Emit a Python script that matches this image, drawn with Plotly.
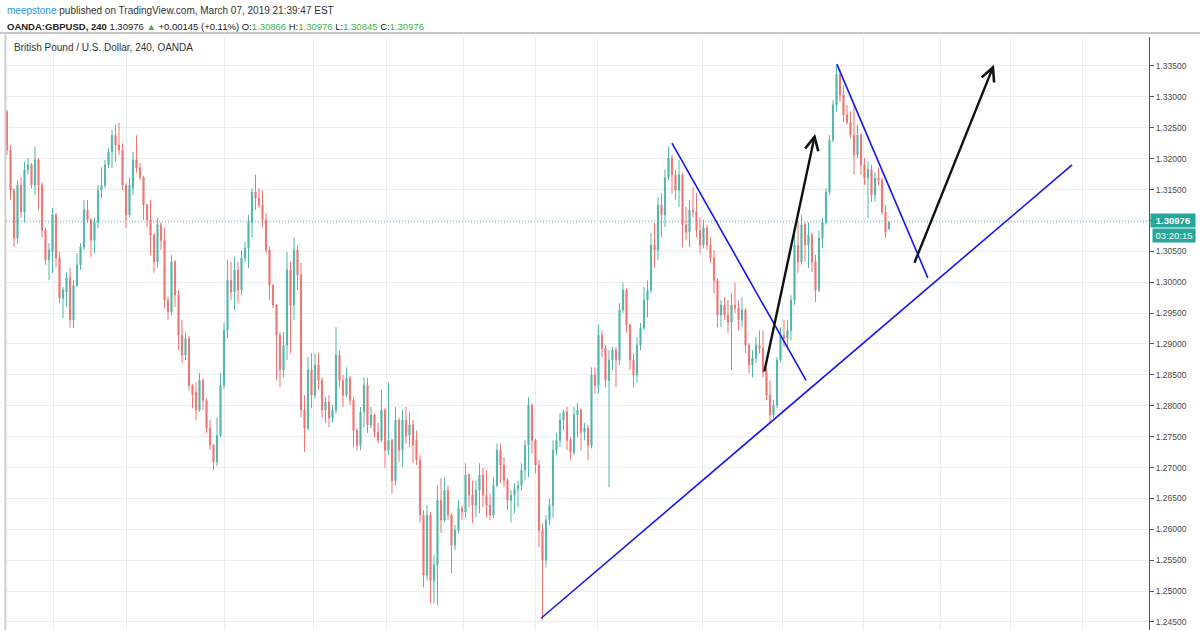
import plotly.graph_objects as go

# GBPUSD 240 candles (oldest -> newest)
opens = [
    1.3276, 1.3214, 1.3149, 1.3071, 1.3157, 1.3114, 1.3182, 1.3190, 1.3157, 1.3198,
    1.3157, 1.3084, 1.3036, 1.3049, 1.3109, 1.3039, 1.2974, 1.2984, 1.3007, 1.2939,
    1.2995, 1.3028, 1.3057, 1.3117, 1.3101, 1.3068, 1.3097, 1.3149, 1.3157, 1.3190,
    1.3211, 1.3238, 1.3222, 1.3214, 1.3157, 1.3109, 1.3152, 1.3198, 1.3185, 1.3170,
    1.3125, 1.3101, 1.3076, 1.3033, 1.3093, 1.3068, 1.2971, 1.2952, 1.3033, 1.2979,
    1.2914, 1.2882, 1.2909, 1.2833, 1.2822, 1.2793, 1.2841, 1.2809, 1.2764, 1.2736,
    1.2709, 1.2752, 1.2833, 1.2922, 1.3003, 1.2984, 1.3020, 1.2987, 1.3039, 1.3055,
    1.3097, 1.3146, 1.3136, 1.3125, 1.3101, 1.3052, 1.2995, 1.2963, 1.2914, 1.2858,
    1.2898, 1.3020, 1.2963, 1.3052, 1.3012, 1.2793, 1.2764, 1.2858, 1.2817, 1.2866,
    1.2841, 1.2793, 1.2806, 1.2780, 1.2793, 1.2882, 1.2841, 1.2817, 1.2845, 1.2809,
    1.2760, 1.2736, 1.2790, 1.2833, 1.2769, 1.2785, 1.2757, 1.2744, 1.2793, 1.2728,
    1.2744, 1.2679, 1.2777, 1.2728, 1.2777, 1.2752, 1.2769, 1.2744, 1.2712, 1.2623,
    1.2526, 1.2623, 1.2517, 1.2542, 1.2647, 1.2615, 1.2663, 1.2623, 1.2574, 1.2598,
    1.2634, 1.2628, 1.2688, 1.2655, 1.2639, 1.2663, 1.2688, 1.2655, 1.2639, 1.2623,
    1.2671, 1.2728, 1.2704, 1.2679, 1.2647, 1.2655, 1.2666, 1.2671, 1.2696, 1.2736,
    1.2801, 1.2744, 1.2704, 1.2598, 1.2550, 1.2615, 1.2639, 1.2728, 1.2744, 1.2777,
    1.2790, 1.2744, 1.2725, 1.2785, 1.2793, 1.2757, 1.2764, 1.2736, 1.2850, 1.2833,
    1.2914, 1.2893, 1.2841, 1.2874, 1.2890, 1.2874, 1.2955, 1.2987, 1.2931, 1.2874,
    1.2850, 1.2898, 1.2926, 1.2971, 1.2987, 1.3060, 1.3052, 1.3125, 1.3109, 1.3169,
    1.3201, 1.3174, 1.3149, 1.3174, 1.3093, 1.3081, 1.3117, 1.3114, 1.3084, 1.3060,
    1.3088, 1.3060, 1.3039, 1.3003, 1.2947, 1.2963, 1.2947, 1.2935, 1.2963, 1.2958,
    1.2939, 1.2955, 1.2898, 1.2866, 1.2877, 1.2898, 1.2893, 1.2854, 1.2817, 1.2785,
    1.2801, 1.2874, 1.2914, 1.2909, 1.2922, 1.2971, 1.3060, 1.3033, 1.3093, 1.3060,
    1.3076, 1.3033, 1.2987, 1.3071, 1.3097, 1.3146, 1.3230, 1.3287, 1.3336, 1.3303,
    1.3271, 1.3259, 1.3238, 1.3206, 1.3238, 1.3190, 1.3169, 1.3182, 1.3141, 1.3169,
    1.3165, 1.3114, 1.30866,
]
highs = [
    1.3279, 1.3222, 1.3152, 1.3165, 1.3169, 1.3195, 1.3201, 1.3193, 1.3219, 1.3201,
    1.3161, 1.3088, 1.3063, 1.3120, 1.3112, 1.3049, 1.2992, 1.3016, 1.3024, 1.3003,
    1.3047, 1.3063, 1.3133, 1.3133, 1.3104, 1.3105, 1.3157, 1.3186, 1.3198, 1.3217,
    1.3246, 1.3255, 1.3258, 1.3225, 1.3160, 1.3170, 1.3211, 1.3238, 1.3193, 1.3172,
    1.3127, 1.3133, 1.3080, 1.3104, 1.3097, 1.3088, 1.2977, 1.3044, 1.3036, 1.2987,
    1.2939, 1.2919, 1.2913, 1.2835, 1.2838, 1.2853, 1.2845, 1.2812, 1.2777, 1.2738,
    1.2781, 1.2853, 1.2934, 1.3036, 1.3033, 1.3041, 1.3033, 1.3052, 1.3065, 1.3109,
    1.3152, 1.3174, 1.3152, 1.3149, 1.3112, 1.3057, 1.2997, 1.2965, 1.2919, 1.2919,
    1.3049, 1.3033, 1.3073, 1.3060, 1.3031, 1.2817, 1.2879, 1.2885, 1.2885, 1.2885,
    1.2846, 1.2814, 1.2817, 1.2801, 1.2927, 1.2890, 1.2850, 1.2862, 1.2848, 1.2814,
    1.2764, 1.2798, 1.2846, 1.2845, 1.2798, 1.2788, 1.2772, 1.2825, 1.2796, 1.2837,
    1.2746, 1.2798, 1.2780, 1.2793, 1.2798, 1.2790, 1.2777, 1.2760, 1.2720, 1.2631,
    1.2639, 1.2628, 1.2558, 1.2671, 1.2683, 1.2684, 1.2671, 1.2626, 1.2607, 1.2647,
    1.2639, 1.2707, 1.2690, 1.2679, 1.2679, 1.2707, 1.2699, 1.2696, 1.2658, 1.2684,
    1.2739, 1.2739, 1.2717, 1.2683, 1.2663, 1.2675, 1.2679, 1.2707, 1.2744, 1.2814,
    1.2804, 1.2746, 1.2712, 1.2610, 1.2623, 1.2650, 1.2744, 1.2756, 1.2788, 1.2793,
    1.2798, 1.2749, 1.2798, 1.2804, 1.2796, 1.2772, 1.2769, 1.2862, 1.2862, 1.2931,
    1.2922, 1.2898, 1.2890, 1.2895, 1.2895, 1.2966, 1.2999, 1.2990, 1.2933, 1.2885,
    1.2911, 1.2934, 1.2992, 1.3003, 1.3080, 1.3096, 1.3138, 1.3144, 1.3182, 1.3219,
    1.3206, 1.3182, 1.3198, 1.3177, 1.3122, 1.3133, 1.3154, 1.3144, 1.3105, 1.3101,
    1.3093, 1.3073, 1.3052, 1.3007, 1.2971, 1.2976, 1.2971, 1.2982, 1.2999, 1.2971,
    1.2976, 1.2958, 1.2901, 1.2890, 1.2911, 1.2922, 1.2922, 1.2861, 1.2841, 1.2809,
    1.2879, 1.2927, 1.2939, 1.2939, 1.2979, 1.3084, 1.3097, 1.3109, 1.3097, 1.3097,
    1.3080, 1.3044, 1.3084, 1.3104, 1.3152, 1.3238, 1.3295, 1.3350, 1.3344, 1.3319,
    1.3287, 1.3276, 1.3287, 1.3255, 1.3242, 1.3201, 1.3195, 1.3190, 1.3178, 1.3185,
    1.3169, 1.3125, 1.30976,
]
lows = [
    1.3206, 1.3133, 1.3057, 1.3063, 1.3104, 1.3097, 1.3174, 1.3152, 1.3141, 1.3117,
    1.3073, 1.3028, 1.3003, 1.3015, 1.3024, 1.2966, 1.2942, 1.2960, 1.2926, 1.2926,
    1.2992, 1.3020, 1.3052, 1.3096, 1.3041, 1.3047, 1.3088, 1.3136, 1.3152, 1.3185,
    1.3185, 1.3195, 1.3206, 1.3149, 1.3088, 1.3105, 1.3141, 1.3177, 1.3165, 1.3101,
    1.3089, 1.3044, 1.3015, 1.3024, 1.3052, 1.2958, 1.2939, 1.2947, 1.2960, 1.2890,
    1.2869, 1.2874, 1.2825, 1.2796, 1.2777, 1.2790, 1.2793, 1.2756, 1.2728, 1.2696,
    1.2702, 1.2749, 1.2828, 1.2909, 1.2971, 1.2955, 1.2966, 1.2979, 1.3033, 1.3023,
    1.3073, 1.3117, 1.3120, 1.3089, 1.3047, 1.2971, 1.2958, 1.2841, 1.2830, 1.2846,
    1.2874, 1.2885, 1.2939, 1.2987, 1.2781, 1.2725, 1.2760, 1.2796, 1.2812, 1.2825,
    1.2780, 1.2772, 1.2765, 1.2773, 1.2788, 1.2830, 1.2798, 1.2814, 1.2801, 1.2733,
    1.2728, 1.2728, 1.2765, 1.2756, 1.2764, 1.2749, 1.2739, 1.2741, 1.2700, 1.2720,
    1.2658, 1.2671, 1.2709, 1.2700, 1.2739, 1.2733, 1.2707, 1.2704, 1.2611, 1.2506,
    1.2517, 1.2480, 1.2480, 1.2477, 1.2594, 1.2611, 1.2615, 1.2529, 1.2566, 1.2594,
    1.2615, 1.2619, 1.2636, 1.2610, 1.2619, 1.2626, 1.2636, 1.2619, 1.2615, 1.2618,
    1.2668, 1.2675, 1.2668, 1.2631, 1.2611, 1.2626, 1.2636, 1.2663, 1.2679, 1.2684,
    1.2723, 1.2691, 1.2571, 1.2453, 1.2538, 1.2607, 1.2619, 1.2720, 1.2733, 1.2760,
    1.2728, 1.2712, 1.2720, 1.2749, 1.2728, 1.2744, 1.2712, 1.2731, 1.2820, 1.2820,
    1.2879, 1.2830, 1.2668, 1.2858, 1.2830, 1.2866, 1.2950, 1.2918, 1.2858, 1.2830,
    1.2838, 1.2890, 1.2922, 1.2943, 1.2982, 1.3024, 1.3036, 1.3073, 1.3089, 1.3165,
    1.3144, 1.3133, 1.3122, 1.3057, 1.3068, 1.3057, 1.3105, 1.3073, 1.3047, 1.3055,
    1.3052, 1.3031, 1.2982, 1.2927, 1.2927, 1.2939, 1.2918, 1.2858, 1.2950, 1.2922,
    1.2927, 1.2885, 1.2853, 1.2846, 1.2869, 1.2885, 1.2846, 1.2809, 1.2772, 1.2780,
    1.2796, 1.2871, 1.2895, 1.2895, 1.2906, 1.2963, 1.3015, 1.3028, 1.3033, 1.3023,
    1.3016, 1.2968, 1.2984, 1.3055, 1.3093, 1.3141, 1.3227, 1.3276, 1.3292, 1.3259,
    1.3255, 1.3233, 1.3174, 1.3201, 1.3174, 1.3157, 1.3104, 1.3130, 1.3130, 1.3157,
    1.3109, 1.3071, 1.30845,
]
closes = [
    1.3214, 1.3149, 1.3071, 1.3157, 1.3114, 1.3182, 1.3190, 1.3157, 1.3198, 1.3157,
    1.3084, 1.3036, 1.3052, 1.3109, 1.3039, 1.2974, 1.2987, 1.3007, 1.2939, 1.2995,
    1.3028, 1.3057, 1.3117, 1.3101, 1.3068, 1.3097, 1.3149, 1.3157, 1.3190, 1.3211,
    1.3238, 1.3222, 1.3214, 1.3157, 1.3109, 1.3157, 1.3198, 1.3185, 1.3170, 1.3125,
    1.3101, 1.3076, 1.3033, 1.3093, 1.3068, 1.2971, 1.2952, 1.3033, 1.2979, 1.2914,
    1.2882, 1.2909, 1.2833, 1.2817, 1.2793, 1.2841, 1.2809, 1.2764, 1.2736, 1.2709,
    1.2752, 1.2833, 1.2922, 1.3003, 1.2984, 1.3020, 1.2987, 1.3039, 1.3055, 1.3097,
    1.3146, 1.3136, 1.3125, 1.3101, 1.3052, 1.2995, 1.2963, 1.2914, 1.2858, 1.2898,
    1.3020, 1.2963, 1.3052, 1.3012, 1.2793, 1.2764, 1.2858, 1.2817, 1.2866, 1.2841,
    1.2793, 1.2806, 1.2780, 1.2793, 1.2882, 1.2841, 1.2817, 1.2845, 1.2809, 1.2760,
    1.2736, 1.2790, 1.2833, 1.2769, 1.2785, 1.2757, 1.2744, 1.2793, 1.2728, 1.2744,
    1.2679, 1.2777, 1.2728, 1.2777, 1.2752, 1.2769, 1.2736, 1.2712, 1.2623, 1.2526,
    1.2623, 1.2517, 1.2542, 1.2647, 1.2615, 1.2663, 1.2623, 1.2574, 1.2598, 1.2634,
    1.2628, 1.2688, 1.2655, 1.2639, 1.2663, 1.2688, 1.2655, 1.2639, 1.2623, 1.2671,
    1.2728, 1.2704, 1.2679, 1.2647, 1.2655, 1.2666, 1.2671, 1.2696, 1.2736, 1.2801,
    1.2744, 1.2704, 1.2598, 1.2550, 1.2615, 1.2639, 1.2728, 1.2744, 1.2777, 1.2790,
    1.2744, 1.2725, 1.2785, 1.2793, 1.2757, 1.2764, 1.2736, 1.2850, 1.2833, 1.2914,
    1.2893, 1.2841, 1.2874, 1.2890, 1.2874, 1.2955, 1.2987, 1.2931, 1.2874, 1.2850,
    1.2898, 1.2926, 1.2971, 1.2987, 1.3060, 1.3052, 1.3125, 1.3109, 1.3169, 1.3201,
    1.3174, 1.3149, 1.3174, 1.3093, 1.3081, 1.3117, 1.3114, 1.3084, 1.3060, 1.3088,
    1.3060, 1.3039, 1.3003, 1.2947, 1.2963, 1.2947, 1.2935, 1.2963, 1.2958, 1.2939,
    1.2955, 1.2898, 1.2866, 1.2877, 1.2898, 1.2893, 1.2854, 1.2817, 1.2785, 1.2801,
    1.2874, 1.2914, 1.2909, 1.2922, 1.2971, 1.3060, 1.3033, 1.3093, 1.3060, 1.3076,
    1.3033, 1.2987, 1.3071, 1.3097, 1.3146, 1.3230, 1.3287, 1.3336, 1.3303, 1.3271,
    1.3259, 1.3238, 1.3206, 1.3238, 1.3190, 1.3169, 1.3182, 1.3141, 1.3169, 1.3165,
    1.3114, 1.3081, 1.30976,
]
bar_index = list(range(len(closes)))

last_price = 1.30976
countdown = "03:20:15"

# price scale ticks; the 1.31000 label sits under the last-price tag
price_ticks = [
    1.245, 1.250, 1.255, 1.260, 1.265, 1.270, 1.275, 1.280, 1.285, 1.290,
    1.295, 1.300, 1.305, 1.310, 1.315, 1.320, 1.325, 1.330, 1.335,
]
price_labels = [
    "1.24500", "1.25000", "1.25500", "1.26000", "1.26500", "1.27000", "1.27500",
    "1.28000", "1.28500", "1.29000", "1.29500", "1.30000", "1.30500", "",
    "1.31500", "1.32000", "1.32500", "1.33000", "1.33500",
]

# hand-drawn trend lines and arrows, (bar index, price) endpoints
trend_lines = [
    ((152.6, 1.2456), (304.3, 1.3190)),
    ((190.0, 1.3225), (228.3, 1.2841)),
    ((237.1, 1.3353), (263.1, 1.3007)),
]
arrows = [
    ((216.3, 1.2853), (230.9, 1.3240)),
    ((259.1, 1.3029), (282.0, 1.3352)),
]

# vertical time grid (no labels visible in the crop)
time_grid = [13.4, 34.0, 62.0, 87.7, 108.3, 130.3, 151.1, 168.6, 198.6, 221.7, 244.6, 266.6, 286.6, 307.4]

UP = "#26a69a"
DOWN = "#ef5350"
GREEN = "#3bb44a"
GRID = "#e9eef2"

fig = go.Figure()

fig.add_trace(
    go.Candlestick(
        x=bar_index,
        open=opens,
        high=highs,
        low=lows,
        close=closes,
        increasing=dict(line=dict(color=UP, width=1), fillcolor=UP),
        decreasing=dict(line=dict(color=DOWN, width=1), fillcolor=DOWN),
        whiskerwidth=0,
        opacity=0.8,
        hoverinfo="skip",
    )
)

for (x0, y0), (x1, y1) in trend_lines:
    fig.add_trace(
        go.Scatter(
            x=[x0, x1], y=[y0, y1], mode="lines",
            line=dict(color="#1414ff", width=1.6), hoverinfo="skip",
        )
    )

for (x0, y0), (x1, y1) in arrows:
    fig.add_annotation(
        x=x1, y=y1, ax=x0, ay=y0,
        xref="x", yref="y", axref="x", ayref="y",
        text="", showarrow=True, arrowhead=5, arrowsize=1.1,
        arrowwidth=2.4, arrowcolor="#111111", standoff=0,
    )

# current price dotted line
fig.add_hline(y=last_price, line=dict(color="#6fb3ad", width=1, dash="1px,2px"), layer="below")

# price tag + countdown on the price scale
fig.add_annotation(
    x=1, xref="paper", xanchor="left", xshift=1, y=last_price, yref="y", yshift=1,
    text="<b>1.30976</b>", showarrow=False, bgcolor=UP, width=42, height=11,
    font=dict(size=9.5, color="white"), borderpad=1,
)
fig.add_annotation(
    x=1, xref="paper", xanchor="left", xshift=3, y=last_price, yref="y", yshift=-14,
    text=countdown, showarrow=False, bgcolor=UP, width=40, height=11,
    font=dict(size=9.5, color="white"), borderpad=1,
)

# header text (TradingView snapshot banner)
fig.add_annotation(
    x=-0.001, y=1.0455, xref="paper", yref="paper", xanchor="left", yanchor="middle",
    text="<span style='color:#2196f3'>meepstone</span> published on TradingView.com, March 07, 2019 21:39:47 EST",
    showarrow=False, font=dict(size=10, color="#333333"),
)
fig.add_annotation(
    x=-0.001, y=1.0169, xref="paper", yref="paper", xanchor="left", yanchor="middle",
    text=(
        "<b>OANDA:GBPUSD, 240</b> 1.30976 "
        f"<span style='color:{GREEN}'>▲</span> +0.00145 (+0.11%) "
        f"O:<span style='color:{GREEN}'>1.30866</span> "
        f"H:<span style='color:{GREEN}'>1.30976</span> "
        f"L:<span style='color:{GREEN}'>1.30845</span> "
        f"C:<span style='color:{GREEN}'>1.30976</span>"
    ),
    showarrow=False, font=dict(size=9.5, color="#222222"),
)
fig.add_annotation(
    x=0.005, y=0.9831, xref="paper", yref="paper", xanchor="left", yanchor="middle",
    text="British Pound / U.S. Dollar, 240, OANDA",
    showarrow=False, font=dict(size=10, color="#333333"),
)

# pane separator and left border
fig.add_shape(type="line", xref="paper", yref="paper", x0=-0.006, x1=1.045, y0=1.0068, y1=1.0068,
              line=dict(color="#c8c8c8", width=2))
fig.add_shape(type="line", xref="paper", yref="paper", x0=-0.0005, x1=-0.0005, y0=0, y1=1.0068,
              line=dict(color="#cfcfcf", width=2))

fig.update_layout(
    width=1200,
    height=630,
    margin=dict(l=6, r=51, t=37, b=0),
    paper_bgcolor="white",
    plot_bgcolor="white",
    showlegend=False,
    boxgap=0.55,
    hovermode=False,
    font=dict(family="Liberation Sans, Arial, sans-serif", color="#333333"),
)

fig.update_xaxes(
    range=[-0.2857, 326.29],
    tickvals=time_grid,
    showticklabels=False,
    ticks="",
    showgrid=True,
    gridcolor=GRID,
    zeroline=False,
    showline=False,
    rangeslider_visible=False,
)
fig.update_yaxes(
    side="right",
    range=[1.2437, 1.33969],
    tickvals=price_ticks,
    ticktext=price_labels,
    showgrid=True,
    gridcolor=GRID,
    zeroline=False,
    showline=True,
    linecolor="#50535e",
    linewidth=1,
    ticks="outside",
    ticklen=4,
    tickcolor="#50535e",
    tickfont=dict(size=8.5, color="#4a4a4a"),
)

# drop the default page margin so the figure sits at the window's top-left
fig.write_html(
    "out.html",
    config={"displayModeBar": False},
    post_script="document.body.style.margin='0';",
)
